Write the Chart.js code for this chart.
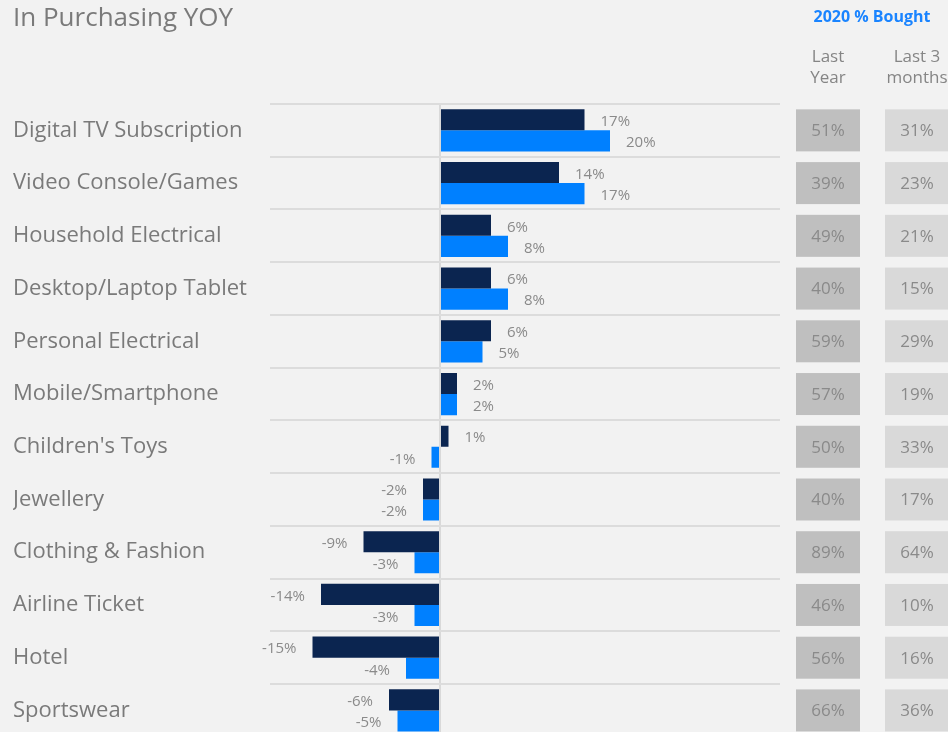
<!DOCTYPE html>
<html>
<head>
<meta charset="utf-8">
<script src="https://cdn.jsdelivr.net/npm/chart.js@4.4.1/dist/chart.umd.min.js"></script>
<style>
  html, body { margin: 0; padding: 0; background: #f2f2f2; overflow: hidden; }
  #wrap { width: 948px; height: 732px; overflow: hidden; }
</style>
</head>
<body>
<div id="wrap"><canvas id="yoy" width="948" height="750"></canvas></div>
<script>
const categories = [
  'Digital TV Subscription', 'Video Console/Games', 'Household Electrical',
  'Desktop/Laptop Tablet', 'Personal Electrical', 'Mobile/Smartphone',
  "Children's Toys", 'Jewellery', 'Clothing & Fashion', 'Airline Ticket',
  'Hotel', 'Sportswear'
];
const yoyDark = [17, 14, 6, 6, 6, 2, 1, -2, -9, -14, -15, -6];
const yoyBlue = [20, 17, 8, 8, 5, 2, -1, -2, -3, -3, -4, -5];
const boughtLastYear = [51, 39, 49, 40, 59, 57, 50, 40, 89, 46, 56, 66];
const boughtLast3Months = [31, 23, 21, 15, 29, 19, 33, 17, 64, 10, 16, 36];
const columnHeads = [['Last', 'Year'], ['Last 3', 'months']];

const FONT = "'Open Sans', sans-serif";
const GREY = '#7a7a7a';

// value labels next to each bar end
const barLabels = {
  id: 'barLabels',
  afterDatasetsDraw(chart) {
    const ctx = chart.ctx;
    ctx.save();
    ctx.font = '15px ' + FONT;
    ctx.fillStyle = '#8a8a8a';
    ctx.textBaseline = 'middle';
    chart.data.datasets.forEach((ds, di) => {
      chart.getDatasetMeta(di).data.forEach((bar, i) => {
        const v = ds.data[i];
        if (v >= 0) {
          ctx.textAlign = 'left';
          ctx.fillText(v + '%', bar.x + 16, bar.y + 2);
        } else {
          ctx.textAlign = 'right';
          ctx.fillText(v + '%', bar.x - 16, bar.y + 2);
        }
      });
    });
    ctx.restore();
  }
};

// title, column heads and the "% bought" boxes on the right
const sidePanel = {
  id: 'sidePanel',
  afterDraw(chart) {
    const ctx = chart.ctx;
    const y = chart.scales.y;
    ctx.save();
    ctx.textBaseline = 'middle';

    ctx.textAlign = 'left';
    ctx.fillStyle = GREY;
    ctx.font = '26px ' + FONT;
    ctx.fillText('In Purchasing YOY', 13, 19);

    ctx.textAlign = 'center';
    ctx.fillStyle = '#1a84ff';
    ctx.font = 'bold 16px ' + FONT;
    ctx.fillText('2020 % Bought', 872, 17);

    const cols = [
      { x: 796, w: 64, fill: '#bfbfbf', vals: boughtLastYear },
      { x: 885, w: 64, fill: '#d9d9d9', vals: boughtLast3Months }
    ];
    ctx.font = '17px ' + FONT;
    ctx.fillStyle = '#858585';
    cols.forEach((c, ci) => {
      ctx.fillText(columnHeads[ci][0], c.x + c.w / 2, 57);
      ctx.fillText(columnHeads[ci][1], c.x + c.w / 2, 78);
    });

    ctx.font = '17px ' + FONT;
    categories.forEach((_, i) => {
      const cy = y.getPixelForValue(i);
      cols.forEach(c => {
        ctx.fillStyle = c.fill;
        ctx.fillRect(c.x, cy - 21, c.w, 42);
        ctx.fillStyle = '#8a8a8a';
        ctx.fillText(c.vals[i] + '%', c.x + c.w / 2, cy + 1);
      });
    });
    ctx.restore();
  }
};

new Chart(document.getElementById('yoy'), {
  type: 'bar',
  data: {
    labels: categories,
    datasets: [
      { data: yoyDark, backgroundColor: '#0b2550', categoryPercentage: 0.8, barPercentage: 1 },
      { data: yoyBlue, backgroundColor: '#0080ff', categoryPercentage: 0.8, barPercentage: 1 }
    ]
  },
  options: {
    indexAxis: 'y',
    responsive: false,
    animation: false,
    layout: { padding: { left: 13, right: 168, top: 104, bottom: 1 } },
    plugins: { legend: { display: false }, tooltip: { enabled: false } },
    scales: {
      x: {
        min: -20,
        max: 40,
        ticks: { display: false },
        border: { display: false },
        grid: {
          drawTicks: false,
          lineWidth: 2,
          color: c => (c.tick && c.tick.value === 0 ? '#d9d9d9' : 'rgba(0,0,0,0)')
        },
        afterFit: s => { s.height = 0; }
      },
      y: {
        border: { display: false },
        grid: { drawTicks: false, lineWidth: 2, color: '#dcdcdc' },
        ticks: {
          crossAlign: 'far',
          color: GREY,
          font: { family: FONT, size: 22 },
          padding: 0
        },
        afterFit: s => { s.width = 257; }
      }
    }
  },
  plugins: [barLabels, sidePanel]
});
</script>
</body>
</html>
